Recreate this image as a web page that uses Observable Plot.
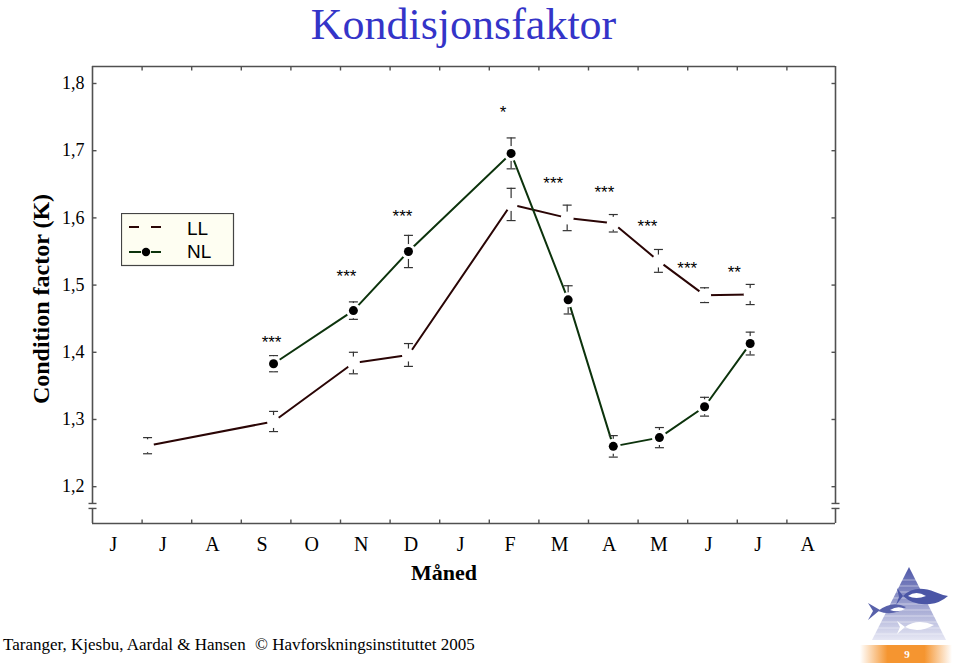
<!DOCTYPE html>
<html>
<head>
<meta charset="utf-8">
<script src="https://cdn.jsdelivr.net/npm/d3@7"></script>
<script src="https://cdn.jsdelivr.net/npm/@observablehq/plot@0.6"></script>
<style>
  html, body { margin: 0; padding: 0; background: #fff; }
  body { width: 960px; height: 666px; overflow: hidden; position: relative; font-family: "Liberation Serif", "Times New Roman", serif; }
  #title { position: absolute; left: 0; top: 0; width: 927px; text-align: center; font-size: 44px; line-height: 49px; color: #3434c8; }
  #chart { position: absolute; left: 0; top: 50px; }
  #ylabel { position: absolute; left: -109px; top: 287px; width: 300px; height: 24px; line-height: 24px; text-align: center; font-size: 24px; font-weight: bold; transform: rotate(-90deg); }
  #xlabel { position: absolute; left: 344px; top: 562px; width: 200px; line-height: 22px; text-align: center; font-size: 22px; font-weight: bold; }
  #legend { position: absolute; left: 121px; top: 213px; }
  .foot { position: absolute; top: 635px; font-size: 17px; line-height: 20px; white-space: nowrap; }
  #logo { position: absolute; left: 850px; top: 556px; }
</style>
</head>
<body>
<div id="title">Kondisjonsfaktor</div>
<div id="chart"></div>
<div id="ylabel">Condition factor (K)</div>
<div id="xlabel">Måned</div>
<svg id="legend" width="114" height="54" viewBox="121 213 114 54">
  <rect x="121.5" y="213.5" width="112" height="52" fill="#fefef2" stroke="#444" stroke-width="1.2"/>
  <line x1="129" y1="227" x2="139" y2="227" stroke="#2a0505" stroke-width="2"/>
  <line x1="151" y1="227" x2="161" y2="227" stroke="#2a0505" stroke-width="2"/>
  <text x="187" y="235" font-family="Liberation Sans, Arial, sans-serif" font-size="19" fill="#000">LL</text>
  <line x1="129" y1="252" x2="141" y2="252" stroke="#0c330c" stroke-width="2"/>
  <line x1="151" y1="252" x2="161" y2="252" stroke="#0c330c" stroke-width="2"/>
  <circle cx="146" cy="252" r="4.2" fill="#000"/>
  <text x="187" y="258" font-family="Liberation Sans, Arial, sans-serif" font-size="19" fill="#000">NL</text>
</svg>
<div class="foot" style="left:3px">Taranger, Kjesbu, Aardal &amp; Hansen</div>
<div class="foot" style="left:255px">© Havforskningsinstituttet 2005</div>
<svg id="logo" width="110" height="110" viewBox="850 556 110 110">
  <defs>
    <linearGradient id="tri" x1="0" y1="0" x2="0" y2="1">
      <stop offset="0" stop-color="#4e57a8"/>
      <stop offset="1" stop-color="#e6e7f4"/>
    </linearGradient>
    <linearGradient id="bar" x1="0" x2="1" y1="0" y2="0">
      <stop offset="0" stop-color="#ffffff"/>
      <stop offset="0.3" stop-color="#f59530"/>
      <stop offset="0.7" stop-color="#f59530"/>
      <stop offset="1" stop-color="#ffffff"/>
    </linearGradient>
  </defs>
  <polygon points="909,567 872,640 946,640" fill="url(#tri)"/>
  <g stroke="#ffffff" stroke-opacity="0.45" stroke-width="1">
    <line x1="870" y1="580" x2="950" y2="580"/>
    <line x1="870" y1="586" x2="950" y2="586"/>
    <line x1="870" y1="592" x2="950" y2="592"/>
    <line x1="870" y1="598" x2="950" y2="598"/>
    <line x1="870" y1="604" x2="950" y2="604"/>
    <line x1="870" y1="610" x2="950" y2="610"/>
    <line x1="870" y1="616" x2="950" y2="616"/>
    <line x1="870" y1="622" x2="950" y2="622"/>
    <line x1="870" y1="628" x2="950" y2="628"/>
    <line x1="870" y1="634" x2="950" y2="634"/>
  </g>
  <path d="M903,596 Q915,584 935,592 Q942,595 948,596 Q940,603 930,604 Q914,606 903,596 Z" fill="#4b56a6"/>
  <path d="M903,596 L897,588 L899,597 L896,605 Z" fill="#4b56a6"/>
  <path d="M908,596 Q916,590 926,596 Q916,600 908,596 Z" fill="#fff"/>
  <path d="M878,611 Q892,600 906,607 Q893,617 878,611 Z" fill="#5861aa"/>
  <path d="M880,610 L868,603 L873,611 L868,620 Z" fill="#5861aa"/>
  <path d="M890,610 Q898,605 905,609 Q898,613 890,610 Z" fill="#fff"/>
  <path d="M905,627 Q917,618 934,625 Q918,634 905,627 Z" fill="#fff"/>
  <path d="M905,627 L897,621 L900,627 L897,634 Z" fill="#fff"/>
  <rect x="860" y="645" width="92" height="18" fill="url(#bar)"/>
  <text x="907" y="658" text-anchor="middle" font-family="Liberation Serif, serif" font-size="11" font-weight="bold" fill="#ffffff">9</text>
</svg>
<script>
// ---------- data ----------
const monthLabels = ["J","J","A","S","O","N","D","J","F","M","A","M","J","J","A"];

// x position in month units (0 = first "J" label)
const llMonth = [0.69, 3.23, 4.84, 5.95, 8.02, 9.15, 10.08, 10.99, 11.92, 12.84];
const llK     = [1.261, 1.297, 1.384, 1.396, 1.620, 1.600, 1.592, 1.536, 1.485, 1.486];
const llErr   = [0.012, 0.015, 0.016, 0.017, 0.024, 0.019, 0.013, 0.017, 0.011, 0.015];

const nlMonth = [3.23, 4.84, 5.95, 8.02, 9.17, 10.08, 11.01, 11.92, 12.84];
const nlK     = [1.383, 1.462, 1.550, 1.696, 1.478, 1.260, 1.273, 1.319, 1.413];
const nlErr   = [0.012, 0.013, 0.024, 0.023, 0.021, 0.016, 0.015, 0.014, 0.017];

const sigMonth = [3.19, 4.70, 5.83, 7.86, 8.87, 9.90, 10.77, 11.57, 12.52];
const sigK     = [1.421, 1.519, 1.608, 1.763, 1.657, 1.644, 1.593, 1.531, 1.525];
const sigLabel = ["***", "***", "***", "*", "***", "***", "***", "***", "**"];

const yTicks = [1.2, 1.3, 1.4, 1.5, 1.6, 1.7, 1.8];
const xTickPos = d3.range(14).map(i => i + 0.58);

// ---------- scales / axis configuration ----------
const xDomain = [-0.42, 14.56];
const yDomain = [1.1452, 1.8253];
const yBreak = [1.1676, 1.175];

const llColor = "#2a0505";
const nlColor = "#0c330c";
const frameColor = "#505050";
const errColor = "#333";

const ll = llMonth.map((m, i) => ({month: m, k: llK[i], err: llErr[i]}));
const nl = nlMonth.map((m, i) => ({month: m, k: nlK[i], err: nlErr[i]}));
const sig = sigMonth.map((m, i) => ({month: m, k: sigK[i], label: sigLabel[i]}));

// custom symbols
const hSym = {draw(c, s) { const r = Math.sqrt(s / Math.PI); c.moveTo(-r, 0); c.lineTo(r, 0); }};
const vTick = dir => ({draw(c, s) { const r = Math.sqrt(s / Math.PI); c.moveTo(0, 0); c.lineTo(0, dir * r); }});
const hTick = dir => ({draw(c, s) { const r = Math.sqrt(s / Math.PI); c.moveTo(0, 0); c.lineTo(dir * r, 0); }});

const frameSides = [xDomain[0], xDomain[1]];
const breakCaps = [];
for (const x of frameSides) for (const y of yBreak) breakCaps.push({x, y});

const fmt = d => d.toFixed(1).replace(".", ",");

const errMarks = (data) => [
  Plot.ruleX(data, {x: "month", y1: d => d.k - d.err, y2: d => d.k + d.err, stroke: errColor, strokeWidth: 1.2}),
  Plot.dot(data, {x: "month", y: d => d.k + d.err, symbol: hSym, r: 4.5, stroke: errColor, strokeWidth: 1.2, fill: "none"}),
  Plot.dot(data, {x: "month", y: d => d.k - d.err, symbol: hSym, r: 4.5, stroke: errColor, strokeWidth: 1.2, fill: "none"})
];

const chart = Plot.plot({
  width: 960,
  height: 540,
  marginTop: 16,
  marginBottom: 67,
  marginLeft: 92,
  marginRight: 125,
  x: {type: "linear", domain: xDomain},
  y: {type: "linear", domain: yDomain},
  style: {fontFamily: "Liberation Serif, Times New Roman, serif", background: "transparent", overflow: "visible", color: "#000"},
  marks: [
    // frame
    Plot.ruleY([yDomain[1], yDomain[0]], {stroke: frameColor, strokeWidth: 1.6}),
    Plot.ruleX(frameSides, {y1: yBreak[1], y2: yDomain[1], stroke: frameColor, strokeWidth: 1.6}),
    Plot.ruleX(frameSides, {y1: yDomain[0], y2: yBreak[0], stroke: frameColor, strokeWidth: 1.6}),
    Plot.dot(breakCaps, {x: "x", y: "y", symbol: hSym, r: 4, stroke: frameColor, strokeWidth: 1.4, fill: "none"}),
    // inward ticks
    Plot.dot(xTickPos, {x: d => d, y: yDomain[0], symbol: vTick(-1), r: 4, stroke: frameColor, strokeWidth: 1.4, fill: "none"}),
    Plot.dot(xTickPos, {x: d => d, y: yDomain[1], symbol: vTick(1), r: 4, stroke: frameColor, strokeWidth: 1.4, fill: "none"}),
    Plot.dot(yTicks, {x: xDomain[0], y: d => d, symbol: hTick(1), r: 4, stroke: frameColor, strokeWidth: 1.4, fill: "none"}),
    Plot.dot(yTicks, {x: xDomain[1], y: d => d, symbol: hTick(-1), r: 4, stroke: frameColor, strokeWidth: 1.4, fill: "none"}),
    // axes labels
    Plot.axisY(yTicks, {anchor: "left", tickSize: 0, tickPadding: 8, fontSize: 18, tickFormat: fmt, label: null, fill: "#000"}),
    Plot.axisX(d3.range(monthLabels.length), {anchor: "bottom", tickSize: 0, tickPadding: 13, fontSize: 20, tickFormat: i => monthLabels[i], label: null, fill: "#000"}),
    // series lines
    Plot.line(ll, {x: "month", y: "k", stroke: llColor, strokeWidth: 2}),
    Plot.line(nl, {x: "month", y: "k", stroke: nlColor, strokeWidth: 2}),
    // error bars
    ...errMarks(ll),
    ...errMarks(nl),
    // white halos (hide line ends / error stems near points)
    Plot.dot(ll, {x: "month", y: "k", r: 6.5, fill: "#fff", stroke: "none"}),
    Plot.dot(nl, {x: "month", y: "k", r: 7.5, fill: "#fff", stroke: "none"}),
    Plot.dot(nl, {x: "month", y: "k", r: 4.5, fill: "#000", stroke: "none"}),
    // significance
    Plot.text(sig, {x: "month", y: "k", text: "label", fontFamily: "Liberation Sans, Arial, sans-serif", fontSize: 17, dy: 4, fill: "#000"})
  ]
});
document.getElementById("chart").appendChild(chart);
</script>
</body>
</html>
